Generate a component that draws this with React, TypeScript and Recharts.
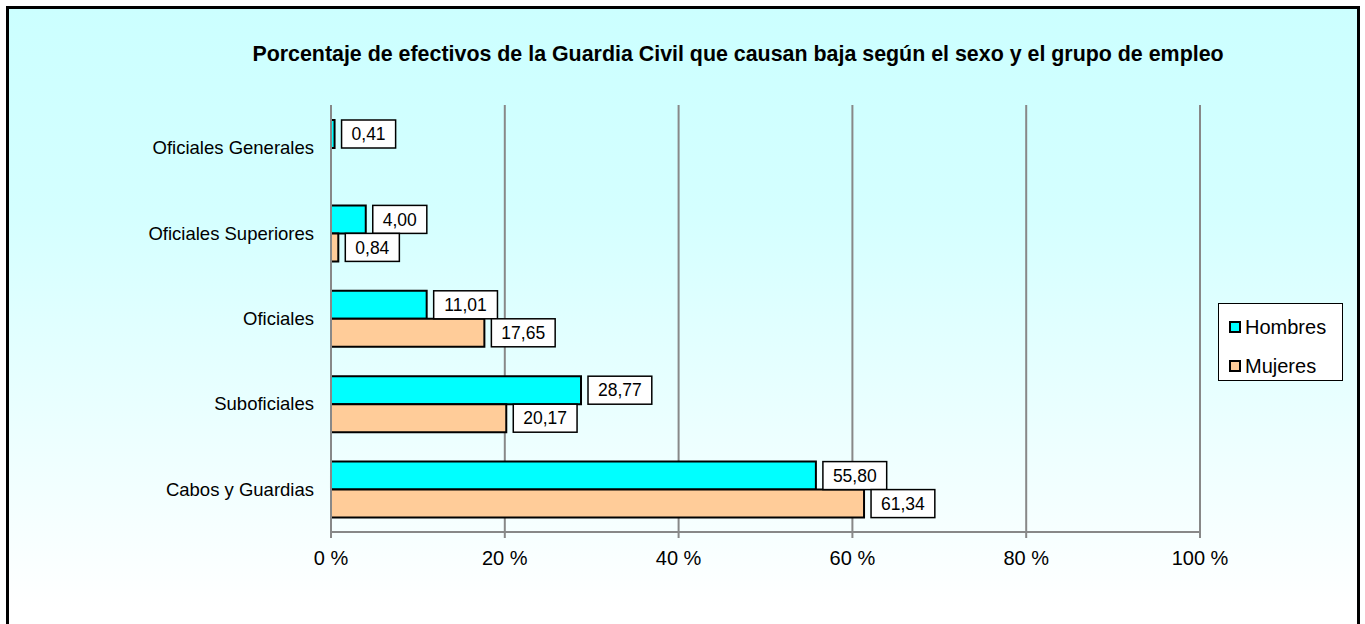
import React from 'react';
import { BarChart, Bar, XAxis, YAxis, CartesianGrid, LabelList, Legend } from 'recharts';

const categories = ['Oficiales Generales', 'Oficiales Superiores', 'Oficiales', 'Suboficiales', 'Cabos y Guardias'];
const hombres = [0.41, 4.0, 11.01, 28.77, 55.8];
const mujeres: (number | null)[] = [null, 0.84, 17.65, 20.17, 61.34];
const xTicks = [0, 20, 40, 60, 80, 100];
const seriesNames = ['Hombres', 'Mujeres'];
const seriesColors = ['#00FFFF', '#FFCC99'];
const title = 'Porcentaje de efectivos de la Guardia Civil que causan baja según el sexo y el grupo de empleo';

const data = categories.map((name, i) => ({ name, hombres: hombres[i], mujeres: mujeres[i] }));

const FONT = '"Liberation Sans", Arial, sans-serif';
const fmt = (v: number) => v.toFixed(2).replace('.', ',');

const ValueLabel = (props: any) => {
  const { value } = props;
  if (value == null) return null;
  const vb = props.viewBox && props.viewBox.width != null ? props.viewBox : props;
  const x = Number(vb.x), y = Number(vb.y), w = Number(vb.width), h = Number(vb.height);
  const s = fmt(Number(value));
  const fs = 17.5;
  const tw = s.split('').reduce((a: number, c: string) => a + (c === ',' ? 0.278 : 0.556), 0) * fs;
  const bw = tw + 20;
  const bx = x + w + 7;
  return (
    <g>
      <rect x={bx} y={y} width={bw} height={h} fill="#fff" stroke="#000" strokeWidth={1.5} />
      <text x={bx + bw / 2} y={y + h / 2 + 0.355 * fs} textAnchor="middle" fontSize={fs} fontFamily={FONT} fill="#000">
        {s}
      </text>
    </g>
  );
};

const LegendBox = () => (
  <div
    style={{
      width: 125,
      height: 78,
      boxSizing: 'border-box',
      border: '1.5px solid #000',
      background: '#fff',
      fontFamily: FONT,
      fontSize: 20,
      color: '#000',
      paddingLeft: 10,
      paddingTop: 8,
    }}
  >
    {seriesNames.map((n, i) => (
      <div key={n} style={{ display: 'flex', alignItems: 'center', height: 30, marginBottom: i === 0 ? 9 : 0 }}>
        <span
          style={{
            display: 'inline-block',
            width: 12,
            height: 12,
            boxSizing: 'border-box',
            border: '2px solid #000',
            background: seriesColors[i],
            marginRight: 4,
          }}
        />
        <span>{n}</span>
      </div>
    ))}
  </div>
);

export default function App() {
  return (
    <div style={{ position: 'absolute', left: 0, top: 0, width: 1365, height: 624, overflow: 'hidden' }}>
      <div
        style={{
          position: 'absolute',
          left: 6,
          top: 6,
          width: 1354,
          height: 660,
          boxSizing: 'border-box',
          border: '3px solid #000',
          background: 'linear-gradient(to bottom, #CCFFFF 0px, #D4FFFF 200px, #FFFFFF 600px)',
        }}
      />
      <svg style={{ position: 'absolute', left: 0, top: 0 }} width={1365} height={100}>
        <text x={738} y={60.5} textAnchor="middle" fontFamily={FONT} fontWeight="bold" fontSize={21.4} fill="#000">
          {title}
        </text>
      </svg>
      <div style={{ position: 'absolute', left: 0, top: 0 }}>
        <BarChart
          width={1365}
          height={624}
          data={data}
          layout="vertical"
          barGap={0}
          margin={{ top: 105, right: 165, bottom: 62, left: 8 }}
        >
          <CartesianGrid horizontal={false} stroke="#888" strokeWidth={2} />
          <XAxis
            type="number"
            domain={[0, 100]}
            ticks={xTicks}
            tickFormatter={(v: number) => `${v} %`}
            axisLine={{ stroke: '#888', strokeWidth: 2 }}
            tickLine={{ stroke: '#888', strokeWidth: 2 }}
            tickSize={6}
            tickMargin={13}
            height={30}
            tick={{ fontSize: 20, fill: '#000', fontFamily: FONT }}
            interval={0}
          />
          <YAxis
            type="category"
            dataKey="name"
            width={323}
            axisLine={{ stroke: '#888', strokeWidth: 2 }}
            tickLine={false}
            tickSize={6}
            tickMargin={11}
            tick={{ fontSize: 18.5, fill: '#000', fontFamily: FONT }}
            interval={0}
          />
          <Legend
            layout="vertical"
            align="center"
            verticalAlign="middle"
            wrapperStyle={{ left: 1218, top: 303, width: 125, height: 78, right: 'auto', bottom: 'auto' }}
            content={() => <LegendBox />}
          />
          <Bar dataKey="hombres" name={seriesNames[0]} fill={seriesColors[0]} stroke="#000" strokeWidth={2} barSize={28} isAnimationActive={false}>
            <LabelList dataKey="hombres" content={ValueLabel} />
          </Bar>
          <Bar dataKey="mujeres" name={seriesNames[1]} fill={seriesColors[1]} stroke="#000" strokeWidth={2} barSize={28} isAnimationActive={false}>
            <LabelList dataKey="mujeres" content={ValueLabel} />
          </Bar>
        </BarChart>
      </div>
    </div>
  );
}
